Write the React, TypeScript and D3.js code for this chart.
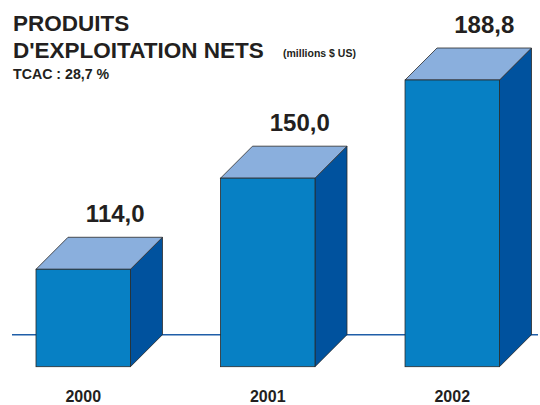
import React from "react";
import * as d3 from "d3";

const years = ["2000", "2001", "2002"];
const values = [114.0, 150.0, 188.8];
const valueLabels = ["114,0", "150,0", "188,8"];

const W = 540;
const H = 405;
const FONT = "'Liberation Sans', Arial, Helvetica, sans-serif";
const DEPTH = 32;
const BOTTOM = 366.7;

export default function App() {
  const x = d3.scaleBand<string>().domain(years).range([36, 499.5]).paddingInner(0.488).paddingOuter(0);
  const y = d3.scaleLinear().domain([75.5, 188.8]).range([BOTTOM, 80]);
  const bw = x.bandwidth();
  const stroke = "#2a2a2a";
  const line = d3.line();

  return (
    <svg width={W} height={H} style={{ position: "absolute", left: 0, top: 0 }} xmlns="http://www.w3.org/2000/svg">
      <rect width={W} height={H} fill="#ffffff" />
      <line x1={12} x2={538} y1={BOTTOM - DEPTH} y2={BOTTOM - DEPTH} stroke="#1f5ea8" strokeWidth={1.6} />
      {years.map((yr, i) => {
        const x0 = x(yr) as number;
        const x1 = x0 + bw;
        const yt = y(values[i]);
        const side = line([
          [x1, yt],
          [x1 + DEPTH, yt - DEPTH],
          [x1 + DEPTH, BOTTOM - DEPTH],
          [x1, BOTTOM],
        ]) + "Z";
        const top = line([
          [x0, yt],
          [x0 + DEPTH, yt - DEPTH],
          [x1 + DEPTH, yt - DEPTH],
          [x1, yt],
        ]) + "Z";
        return (
          <g key={yr}>
            <path d={side} fill="#00529e" stroke={stroke} strokeWidth={0.8} strokeLinejoin="round" />
            <path d={top} fill="#8aafdd" stroke={stroke} strokeWidth={0.8} strokeLinejoin="round" />
            <rect x={x0} y={yt} width={bw} height={BOTTOM - yt} fill="#0780c4" stroke={stroke} strokeWidth={0.8} />
            <text
              x={x0 + bw / 2 + DEPTH}
              y={yt - DEPTH - 15}
              textAnchor="middle"
              fontFamily={FONT}
              fontWeight="bold"
              fontSize={24}
              fill="#231f20"
            >
              {valueLabels[i]}
            </text>
            <text
              x={x0 + bw / 2}
              y={402}
              textAnchor="middle"
              fontFamily={FONT}
              fontWeight="bold"
              fontSize={16}
              fill="#231f20"
            >
              {yr}
            </text>
          </g>
        );
      })}
      <text x={13} y={31} fontFamily={FONT} fontWeight="bold" fontSize={22.5} fill="#231f20">
        PRODUITS
      </text>
      <text x={13} y={58} fontFamily={FONT} fontWeight="bold" fontSize={22.5} fill="#231f20">
        D'EXPLOITATION NETS
      </text>
      <text x={283} y={57} fontFamily={FONT} fontWeight="bold" fontSize={10.5} fill="#231f20">
        (millions $ US)
      </text>
      <text x={13} y={79} fontFamily={FONT} fontWeight="bold" fontSize={14.2} fill="#231f20">
        TCAC : 28,7 %
      </text>
    </svg>
  );
}
